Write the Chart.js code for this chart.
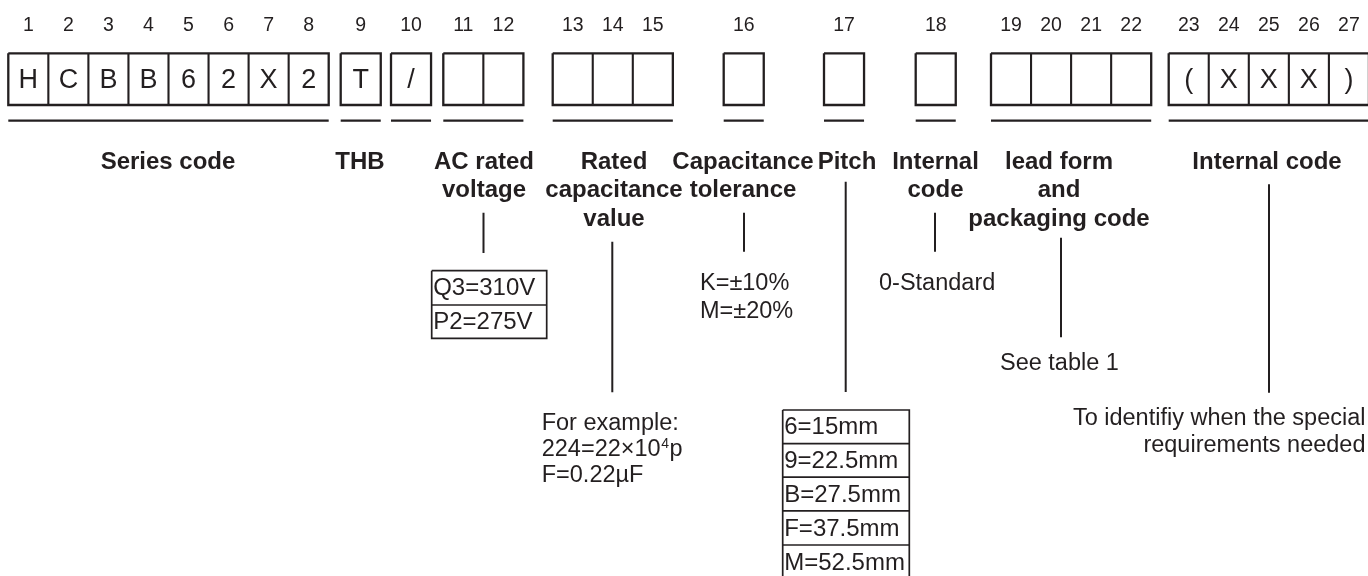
<!DOCTYPE html>
<html>
<head>
<meta charset="utf-8">
<script src="https://cdn.jsdelivr.net/npm/chart.js@4"></script>
<style>
html,body{margin:0;padding:0;background:#ffffff;}
#wrap{width:1368px;height:576px;position:relative;}
</style>
</head>
<body>
<div id="wrap"><canvas id="c"></canvas></div>
<script>
// ---- content (data) ----
const positions = ['1','2','3','4','5','6','7','8','9','10','11','12','13','14','15','16','17','18','19','20','21','22','23','24','25','26','27'];
const codeChars = ['H','C','B','B','6','2','X','2','T','/','','','','','','','','','','','','','(','X','X','X',')'];
const groupSizes = [8,1,1,2,3,1,1,1,4,5];
const groupLabels = [['Series code'],['THB'],[],['AC rated','voltage'],['Rated','capacitance','value'],['Capacitance','tolerance'],['Pitch'],['Internal','code'],['lead form','and','packaging code'],['Internal code']];
const voltageCodes = ['Q3=310V','P2=275V'];
const toleranceCodes = ['K=±10%','M=±20%'];
const pitchCodes = ['6=15mm','9=22.5mm','B=27.5mm','F=37.5mm','M=52.5mm'];
const internalNote = ['0-Standard'];
const exampleNote = ['For example:', ['224=22×10','4','p'], 'F=0.22µF'];
const leadNote = ['See table 1'];
const specialNote = ['To identifiy when the special','requirements needed'];

// ---- layout (positions in diagram units) ----
const L = {
  groupX: [8.3, 340.7, 391, 443.3, 552.7, 723.7, 824, 915.7, 991, 1168.7],
  cellW: 40.05,
  boxTop: 53.3, boxBot: 105,
  numY: 26, underY: 120.7,
  labelCX: [168, 360, null, 484, 614, 743, 847, 935.5, 1059, 1267],
  labelY0: 162, labelDY: 28.6,
  connectors: [[483.5,212.7,253],[612.3,241.7,392.3],[744,212.7,251.7],[845.7,181.7,392],[935,212.7,251.7],[1061,237.7,337.3],[1269,184.3,392.7]],
  voltBox: {x0:431.7, x1:546.7, y:[270.7,305,338.3]},
  pitchBox: {x0:782.7, x1:909.3, y:[410,443.6,477.2,510.8,545,579]},
  tolX: 700, tolY: [283.5, 311.7],
  stdX: 879, stdY: 283.5,
  exX: 541.7, exY: [423.3, 450, 475.5],
  seeX: 1000, seeY: 364,
  spRight: 1365.5, spY: [418.5, 445.5]
};
const INK = '#231f20';
const FONT = "'Liberation Sans', Arial, sans-serif";

// build line datasets
const datasets = [];
function seg(pts, w){
  datasets.push({type:'scatter', showLine:true, data: pts.map(p=>({x:p[0],y:p[1]})),
    borderColor:INK, borderWidth:w, pointRadius:0, fill:false, tension:0,
    borderJoinStyle:'miter', borderCapStyle:'butt'});
}
let ci = 0;
const cellCenters = [];
groupSizes.forEach((n,g)=>{
  const x0 = L.groupX[g], x1 = x0 + n*L.cellW;
  seg([[x0,L.boxTop],[x1,L.boxTop],[x1,L.boxBot],[x0,L.boxBot],[x0,L.boxTop]], 2.3);
  for(let k=1;k<n;k++){ const xx = x0+k*L.cellW; seg([[xx,L.boxTop],[xx,L.boxBot]], 2.1); }
  for(let k=0;k<n;k++){ cellCenters.push(x0+(k+0.5)*L.cellW); ci++; }
  seg([[x0,L.underY],[x1,L.underY]], 2.3);
});
L.connectors.forEach(c=>seg([[c[0],c[1]],[c[0],c[2]]], 2));
// voltage table
(function(){const b=L.voltBox; seg([[b.x0,b.y[0]],[b.x1,b.y[0]],[b.x1,b.y[b.y.length-1]],[b.x0,b.y[b.y.length-1]],[b.x0,b.y[0]]],1.7);
 for(let i=1;i<b.y.length-1;i++) seg([[b.x0,b.y[i]],[b.x1,b.y[i]]],1.7);})();
(function(){const b=L.pitchBox; seg([[b.x0,b.y[0]],[b.x1,b.y[0]],[b.x1,b.y[b.y.length-1]],[b.x0,b.y[b.y.length-1]],[b.x0,b.y[0]]],1.7);
 for(let i=1;i<b.y.length-1;i++) seg([[b.x0,b.y[i]],[b.x1,b.y[i]]],1.7);})();

const textPlugin = {
  id:'texts',
  afterDatasetsDraw(chart){
    const ctx = chart.ctx, xs = chart.scales.x, ys = chart.scales.y;
    const X = v=>xs.getPixelForValue(v), Y = v=>ys.getPixelForValue(v);
    ctx.save();
    ctx.fillStyle = INK;
    ctx.textBaseline = 'middle';
    // position numbers
    ctx.font = '19.5px '+FONT; ctx.textAlign='center';
    positions.forEach((p,i)=>ctx.fillText(p, X(cellCenters[i]), Y(L.numY)));
    // code chars
    ctx.font = '27px '+FONT;
    codeChars.forEach((c,i)=>{ if(c) ctx.fillText(c, X(cellCenters[i]), Y((L.boxTop+L.boxBot)/2+1)); });
    // group labels
    ctx.font = 'bold 24px '+FONT;
    groupLabels.forEach((lines,g)=>{ lines.forEach((t,k)=>ctx.fillText(t, X(L.labelCX[g]), Y(L.labelY0+k*L.labelDY))); });
    // tables
    ctx.font = '24px '+FONT; ctx.textAlign='left';
    voltageCodes.forEach((t,i)=>ctx.fillText(t, X(L.voltBox.x0+1.5), Y((L.voltBox.y[i]+L.voltBox.y[i+1])/2+1)));
    pitchCodes.forEach((t,i)=>ctx.fillText(t, X(L.pitchBox.x0+1.5), Y((L.pitchBox.y[i]+L.pitchBox.y[i+1])/2+1)));
    // notes
    ctx.font = '23.5px '+FONT;
    toleranceCodes.forEach((t,i)=>ctx.fillText(t, X(L.tolX), Y(L.tolY[i])));
    internalNote.forEach(t=>ctx.fillText(t, X(L.stdX), Y(L.stdY)));
    leadNote.forEach(t=>ctx.fillText(t, X(L.seeX), Y(L.seeY)));
    exampleNote.forEach((t,i)=>{
      if(Array.isArray(t)){
        let x = X(L.exX);
        ctx.font = '23.5px '+FONT; ctx.fillText(t[0], x, Y(L.exY[i])); x += ctx.measureText(t[0]).width;
        ctx.font = '14px '+FONT; ctx.fillText(t[1], x+0.5, Y(L.exY[i]-6)); x += ctx.measureText(t[1]).width+1;
        ctx.font = '23.5px '+FONT; ctx.fillText(t[2], x, Y(L.exY[i]));
      } else ctx.fillText(t, X(L.exX), Y(L.exY[i]));
    });
    ctx.textAlign='right';
    specialNote.forEach((t,i)=>ctx.fillText(t, X(L.spRight), Y(L.spY[i])));
    ctx.restore();
  }
};

new Chart(document.getElementById('c'), {
  type:'scatter',
  data:{datasets},
  options:{
    responsive:true, maintainAspectRatio:false, animation:false,
    layout:{padding:0},
    plugins:{legend:{display:false}, tooltip:{enabled:false}},
    scales:{
      x:{type:'linear', min:0, max:1368, display:false},
      y:{type:'linear', min:0, max:576, reverse:true, display:false}
    },
    elements:{line:{borderCapStyle:'butt'}}
  },
  plugins:[textPlugin]
});
</script>
</body>
</html>
